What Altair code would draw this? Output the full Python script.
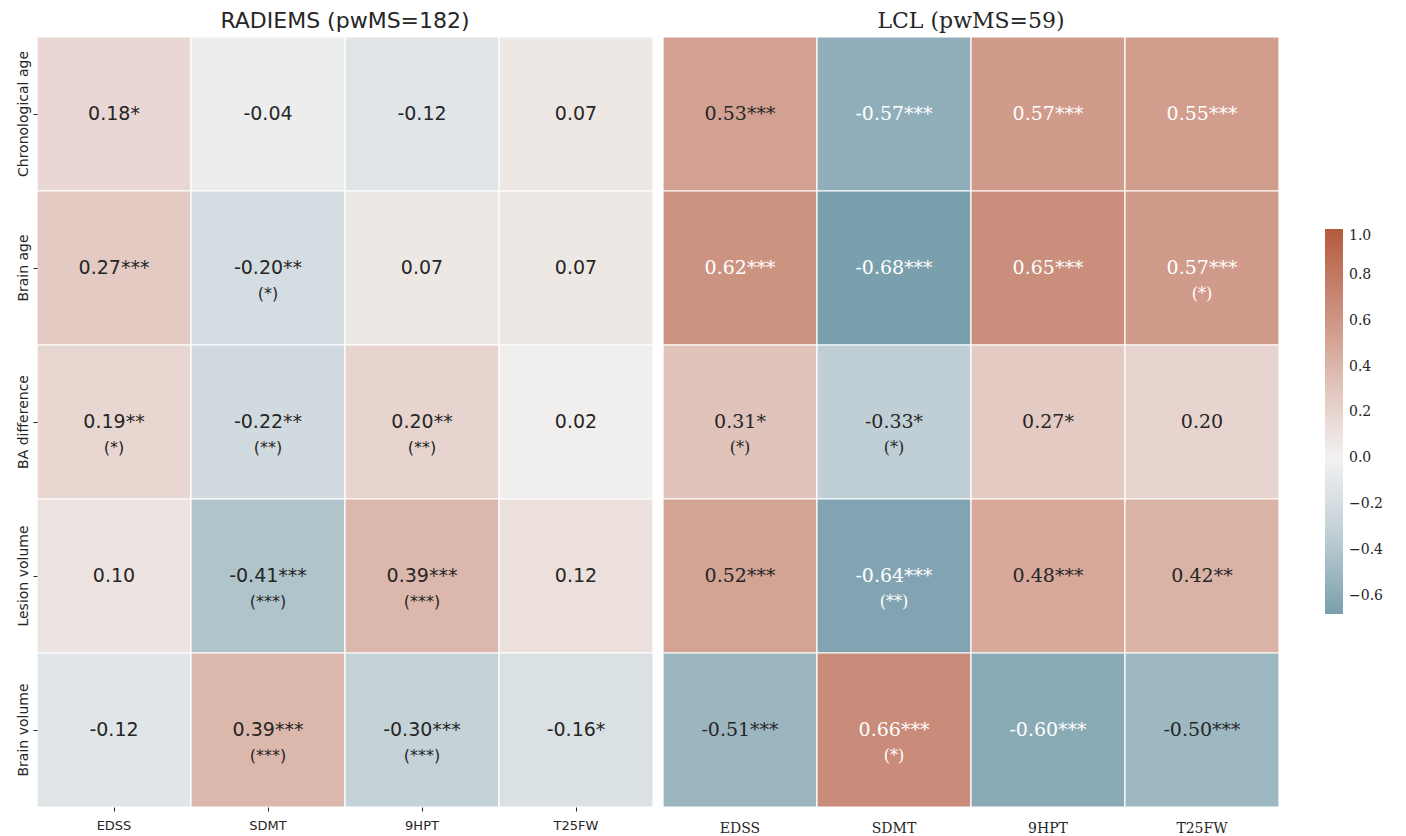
import altair as alt
import pandas as pd

rows = ["Chronological age", "Brain age", "BA difference", "Lesion volume", "Brain volume"]
cols = ["EDSS", "SDMT", "9HPT", "T25FW"]

radiems_r = [
    [0.18, -0.04, -0.12, 0.07],
    [0.27, -0.20, 0.07, 0.07],
    [0.19, -0.22, 0.20, 0.02],
    [0.10, -0.41, 0.39, 0.12],
    [-0.12, 0.39, -0.30, -0.16],
]
radiems_sig = [
    ["*", "", "", ""],
    ["***", "**", "", ""],
    ["**", "**", "**", ""],
    ["", "***", "***", ""],
    ["", "***", "***", "*"],
]
radiems_sig2 = [
    ["", "", "", ""],
    ["", "(*)", "", ""],
    ["(*)", "(**)", "(**)", ""],
    ["", "(***)", "(***)", ""],
    ["", "(***)", "(***)", ""],
]

lcl_r = [
    [0.53, -0.57, 0.57, 0.55],
    [0.62, -0.68, 0.65, 0.57],
    [0.31, -0.33, 0.27, 0.20],
    [0.52, -0.64, 0.48, 0.42],
    [-0.51, 0.66, -0.60, -0.50],
]
lcl_sig = [
    ["***", "***", "***", "***"],
    ["***", "***", "***", "***"],
    ["*", "*", "*", ""],
    ["***", "***", "***", "**"],
    ["***", "***", "***", "***"],
]
lcl_sig2 = [
    ["", "", "", ""],
    ["", "", "", "(*)"],
    ["(*)", "(*)", "", ""],
    ["", "(**)", "", ""],
    ["", "(*)", "", ""],
]

legend_ticks = [-0.6, -0.4, -0.2, 0.0, 0.2, 0.4, 0.6, 0.8, 1.0]


def make_df(r, s, s2):
    recs = []
    for i, rn in enumerate(rows):
        for j, cn in enumerate(cols):
            recs.append({
                "row": rn, "col": cn, "r": r[i][j],
                "label": f"{r[i][j]:.2f}{s[i][j]}",
                "sig2": s2[i][j],
            })
    return pd.DataFrame(recs)


SANS = "DejaVu Sans"
SERIF = "DejaVu Serif"
DARK = "#262626"

color_scale = alt.Scale(
    domain=[-0.68, -0.333, 0, 0.333, 0.667, 1.0],
    range=["#7a9fad", "#c0cfd5", "#f2f2f2", "#dfc1b7", "#c98b79", "#b55a3f"],
)


def panel(df, title, font, show_y, xsize, ticks, text_color, lpad):
    base = alt.Chart(df)
    xenc = alt.X("col:N", sort=cols, axis=alt.Axis(
        title=None, labelAngle=0, labelFont=font, labelFontSize=xsize,
        labelColor=DARK, ticks=ticks, tickSize=4, tickColor=DARK,
        domain=False, labelPadding=lpad))
    if show_y:
        yenc = alt.Y("row:N", sort=rows, axis=alt.Axis(
            title=None, labelAngle=-90, labelFont=SANS, labelFontSize=14,
            labelColor=DARK, tickSize=4, tickColor=DARK, domain=False,
            labelPadding=3, labelAlign="center", labelBaseline="bottom"))
    else:
        yenc = alt.Y("row:N", sort=rows, axis=None)

    rect = base.mark_rect(stroke="white", strokeWidth=1.2).encode(
        x=xenc, y=yenc,
        color=alt.Color("r:Q", scale=color_scale, legend=alt.Legend(
            title=None, orient="none", legendX=1288, legendY=192,
            direction="vertical", gradientLength=385, gradientThickness=18,
            values=legend_ticks, format=".1f", labelFont=SERIF,
            labelFontSize=14, labelColor=DARK, labelOffset=6,
            gradientStrokeWidth=0)),
    )
    text = base.mark_text(font=font, fontSize=19).encode(
        x=alt.X("col:N", sort=cols), y=alt.Y("row:N", sort=rows),
        text="label:N", color=text_color)
    text2 = base.transform_filter("datum.sig2 != ''").mark_text(
        font=font, fontSize=16, dy=26).encode(
        x=alt.X("col:N", sort=cols), y=alt.Y("row:N", sort=rows),
        text="sig2:N", color=text_color)
    return alt.layer(rect, text, text2).properties(
        width=616, height=770,
        title=alt.Title(title, font=font, fontSize=22, fontWeight="normal",
                        color=DARK, offset=3),
    )


left = panel(make_df(radiems_r, radiems_sig, radiems_sig2),
             "RADIEMS (pwMS=182)", SANS, True, 13, True, alt.value(DARK), 8)
right = panel(make_df(lcl_r, lcl_sig, lcl_sig2),
              "LCL (pwMS=59)", SERIF, False, 14, False,
              alt.condition("abs(datum.r) >= 0.55", alt.value("white"), alt.value(DARK)), 14)

chart = alt.hconcat(left, right, spacing=8).resolve_scale(
    color="shared").resolve_legend(color="shared").properties(
    padding={"left": 7, "top": 2, "right": 0, "bottom": 0}
).configure_view(stroke=None)

chart.save("out.html", embed_options={"renderer": "svg", "actions": False})
